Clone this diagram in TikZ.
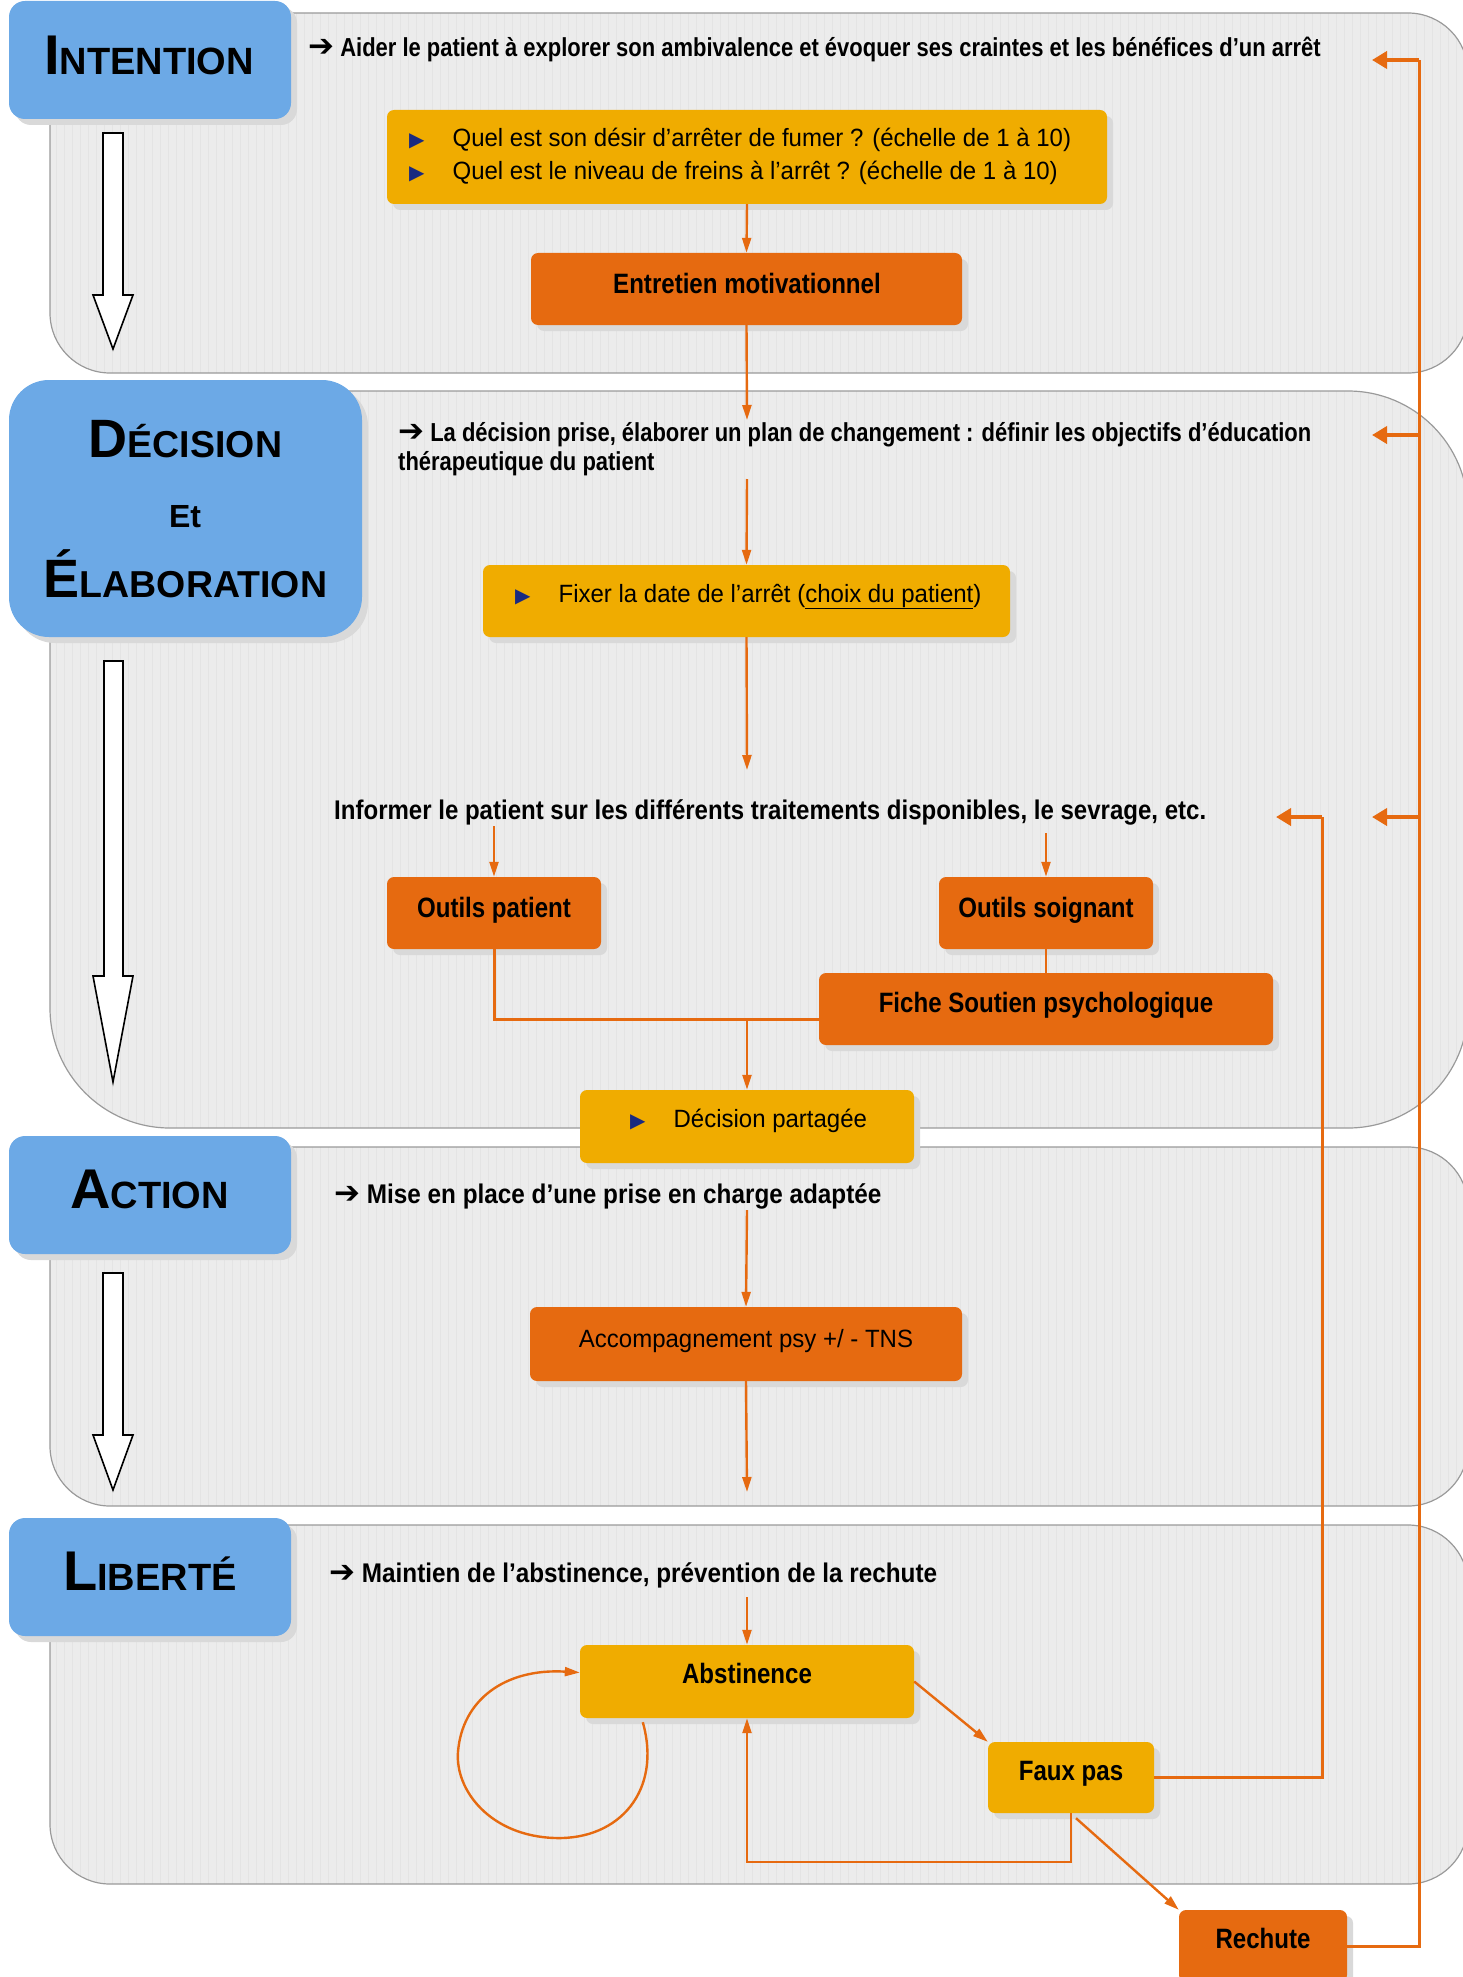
\documentclass[tikz,border=0pt]{standalone}
\usepackage{fontspec}
\setmainfont{Liberation Sans}
\newfontfamily\narb[FakeStretch=0.86]{Liberation Sans}
\newfontfamily\narp[FakeStretch=0.845]{Liberation Sans}
\newfontfamily\narw[FakeStretch=0.9]{Liberation Sans}
\newfontfamily\narq[FakeStretch=0.89]{Liberation Sans}
\newfontfamily\narr[FakeStretch=0.96]{Liberation Sans}
\newfontfamily\djv{DejaVu Sans}
\usetikzlibrary{arrows.meta,shadows,calc}
\definecolor{hblue}{HTML}{6CA9E6}
\definecolor{bor}{HTML}{E66A10}
\definecolor{byel}{HTML}{F0AC00}
\definecolor{pfill}{HTML}{ECECEC}
\definecolor{pgrid}{HTML}{E4E4E4}
\definecolor{pline}{HTML}{9A9A9A}
\definecolor{bul}{HTML}{1A2A80}
\definecolor{shad}{HTML}{D9D9D9}
\newcommand\hsc[4]{{\fontsize{#1}{#1}\selectfont #3}{\fontsize{#2}{#2}\selectfont #4}}
\newcommand\tarr{{\djv\bfseries\fontsize{31}{31}\selectfont ➔}}
\newcommand\tbul{{\djv\fontsize{20}{20}\selectfont\color{bul}▶}}
\tikzset{
  pgridst/.style={draw=pgrid, line width=0.6},
  shd/.style={drop shadow={shadow xshift=6pt, shadow yshift=-6pt, fill=shad, opacity=1}},
  hdr/.style={fill=hblue, rounded corners=16, shd, inner sep=0, minimum width=282, minimum height=118},
  htxt/.style={font=\bfseries, inner sep=0, anchor=base},
  obox/.style={fill=bor, rounded corners=7, shd, inner sep=0},
  ybox/.style={fill=byel, rounded corners=7, shd, inner sep=0},
  blbl/.style={font={\fontsize{28}{32}\narb\bfseries}, inner sep=0, anchor=base},
  rlbl/.style={font={\fontsize{25}{30}\narr}, inner sep=0},
  ptxt/.style={font={\fontsize{26}{31}\narp\bfseries}, inner sep=0, anchor=base west},
  ptxtw/.style={font={\fontsize{27}{31}\narw\bfseries}, inner sep=0, anchor=base west},
  ptxtq/.style={font={\fontsize{27}{31}\narq\bfseries}, inner sep=0, anchor=base west},
  conn/.style={draw=bor, line width=2.4, -{Triangle[length=15pt,width=9pt]}},
  cline/.style={draw=bor, line width=2.4},
  stub/.style={draw=bor, line width=4, -{Triangle[length=15pt,width=17pt]}},
  bigarr/.style={draw=black, line width=1.6, fill=white}
}
\begin{document}
\begin{tikzpicture}[x=1pt,y=-1pt]
\useasboundingbox (0,0) rectangle (1462,1977);
% panels
\foreach \ya/\yb/\rr in {13/373/60, 391/1128/120, 1147/1506/60, 1525/1884/60}{
  \fill[pfill, rounded corners=\rr] (50,\ya) rectangle (1468,\yb);
  \begin{scope}
    \clip[rounded corners=\rr] (50,\ya) rectangle (1468,\yb);
    \draw[pgridst] (50,\ya) grid[step=8] (1468,\yb);
  \end{scope}
  \draw[draw=pline, line width=1.2, rounded corners=\rr] (50,\ya) rectangle (1468,\yb);
}
% big white arrows
\draw[bigarr] (103,133) -- (123,133) -- (123,295) -- (133,295) -- (113,349) -- (93,295) -- (103,295) -- cycle;
\draw[bigarr] (104,661) -- (123,661) -- (123,976) -- (133,976) -- (113,1082) -- (93,976) -- (104,976) -- cycle;
\draw[bigarr] (103,1273) -- (123,1273) -- (123,1435) -- (133,1435) -- (113,1490) -- (93,1435) -- (103,1435) -- cycle;
% headers
\node[hdr] (hint) at (150,60) {};
\node[htxt] (tint) at (149,75) {\hsc{56}{38}{I}{NTENTION}};
\node[hdr, minimum width=353, minimum height=257, rounded corners=40] (hdec) at (185.5,508.5) {};
\node[htxt] (tdec1) at (185.5,457) {\hsc{54}{37.5}{D}{ÉCISION}};
\node[htxt] (tdec2) at (185,527) {\fontsize{32}{32}\selectfont Et};
\node[htxt] (tdec3) at (185.5,597) {\hsc{54}{37.5}{É}{LABORATION}};
\node[hdr] (hact) at (150,1195) {};
\node[htxt] (tact) at (149.5,1208) {\hsc{56}{38}{A}{CTION}};
\node[hdr] (hlib) at (150,1577) {};
\node[htxt] (tlib) at (150,1590) {\hsc{56}{38}{L}{IBERTÉ}};
% panel texts
\node[ptxt] (p1) at (308,57) {\tarr\ Aider le patient à explorer son ambivalence et évoquer ses craintes et les bénéfices d’un arrêt};
\node[ptxt] (p2a) at (398,441) {\tarr\ La décision prise, élaborer un plan de changement : définir les objectifs d’éducation};
\node[ptxt] (p2b) at (398,470) {thérapeutique du patient};
\node[ptxtq] (p2c) at (334,819) {Informer le patient sur les différents traitements disponibles, le sevrage, etc.};
\node[ptxtw] (p3) at (334,1203) {\tarr\ Mise en place d’une prise en charge adaptée};
\node[ptxtw] (p4) at (329,1582) {\tarr\ Maintien de l’abstinence, prévention de la rechute};
% coordinates
\coordinate (d1) at (747,420);
\coordinate (d2) at (747,479);
\coordinate (d3) at (747,770);
\coordinate (i1) at (494,826);
\coordinate (i2) at (1046,833);
\coordinate (jn) at (747,1019);
\coordinate (a1) at (747,1210);
\coordinate (a2) at (747,1492);
\coordinate (l1) at (747,1597);
\coordinate (fr) at (1322,817);
\coordinate (frt) at (1276,817);
\coordinate (rr1) at (1419,60);
\coordinate (rr2) at (1419,435);
\coordinate (rr3) at (1419,817);
\coordinate (rt1) at (1372,60);
\coordinate (rt2) at (1372,435);
\coordinate (rt3) at (1372,817);
% boxes
\node[ybox, minimum width=720, minimum height=94] (q1) at (747,157) {};
\node[rlbl, anchor=base west] (q1a) at (409,147) {\tbul\hspace{28pt}Quel est son désir d’arrêter de fumer ? (échelle de 1 à 10)};
\node[rlbl, anchor=base west] (q1b) at (409,180) {\tbul\hspace{28pt}Quel est le niveau de freins à l’arrêt ? (échelle de 1 à 10)};
\node[obox, minimum width=431, minimum height=72] (entr) at (746.5,289) {};
\node[blbl] (tentr) at (747,293) {Entretien motivationnel};
\node[ybox, minimum width=527, minimum height=72] (fixer) at (746.5,601) {};
\node[rlbl, anchor=base west] (tfix) at (515,602) {\tbul\hspace{28pt}Fixer la date de l’arrêt (\underline{choix du patient})};
\node[obox, minimum width=214, minimum height=72] (opat) at (494,913) {};
\node[blbl] (topat) at (494,917) {Outils patient};
\node[obox, minimum width=214, minimum height=72] (osoi) at (1046,913) {};
\node[blbl] (tosoi) at (1046,917) {Outils soignant};
% connectors
\draw[conn] (q1.south) -- (entr.north);
\draw[conn] (entr.south) -- (d1);
\draw[conn] (d2) -- (fixer.north);
\draw[conn] (fixer.south) -- (d3);
\draw[conn] (i1) -- (opat.north);
\draw[conn] (i2) -- (osoi.north);
\node[obox, minimum width=454, minimum height=72] (fiche) at (1046,1009) {};
\node[blbl] (tfiche) at (1046,1012) {Fiche Soutien psychologique};
\draw[cline] (osoi.south) -- (fiche.north);
\draw[cline, line width=3] (opat.south) |- (fiche.west |- jn);
\node[ybox, minimum width=334, minimum height=73] (dpart) at (747,1126.5) {};
\node[rlbl, anchor=base west] (tdpart) at (630,1127) {\tbul\hspace{28pt}Décision partagée};
\draw[conn] (jn) -- (dpart.north);
\node[obox, minimum width=432, minimum height=74] (acc) at (746,1344) {};
\node[rlbl, anchor=base] (tacc) at (746,1347) {Accompagnement psy +/ - TNS};
\draw[conn] (a1) -- (acc.north);
\draw[conn] (acc.south) -- (a2);
\node[ybox, minimum width=334, minimum height=73] (abst) at (747,1681.5) {};
\node[blbl] (tabst) at (747,1683) {Abstinence};
\node[ybox, minimum width=166, minimum height=71] (faux) at (1071,1777.5) {};
\node[blbl] (tfaux) at (1071,1780) {Faux pas};
\node[obox, minimum width=168, minimum height=72] (rech) at (1263,1946) {};
\node[blbl] (trech) at (1263,1948) {Rechute};
\draw[conn] (l1) -- (abst.north);
\draw[conn] (abst.east) -- (faux.north west);
\draw[conn] ($(faux.south)+(5,5)$) -- (rech.north west);
\draw[conn] (faux.south) -- ++(0,49) -| (abst.south);
\draw[conn] ($(abst.south west)+(63,4)$) .. controls (662,1790) and (620,1840) .. (555,1838)
   .. controls (490,1836) and (455,1790) .. (458,1752)
   .. controls (462,1700) and (505,1668) .. ($(abst.west)+(0,-9)$);
\draw[cline, line width=3] (faux.east) -| (fr);
\draw[stub] (fr) -- (frt);
\draw[cline, line width=3] (rech.east) -| (rr1);
\draw[stub] (rr1) -- (rt1);
\draw[stub] (rr2) -- (rt2);
\draw[stub] (rr3) -- (rt3);
\end{tikzpicture}
\end{document}
